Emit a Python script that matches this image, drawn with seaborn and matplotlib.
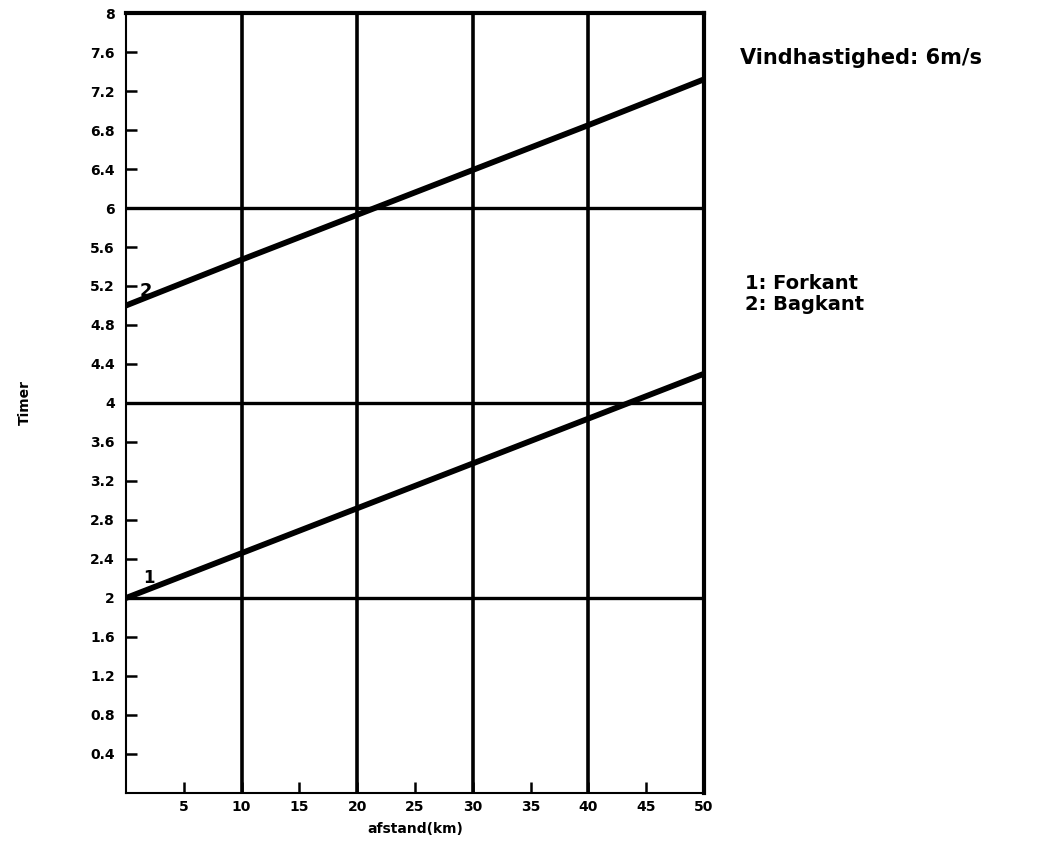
import numpy as np
import pandas as pd
import matplotlib
matplotlib.use("Agg")
import matplotlib.pyplot as plt
import seaborn as sns

# distance (km) and time (hours)
afstand = [0, 10, 20, 30, 40, 50]
forkant = [2.0, 2.46, 2.92, 3.38, 3.84, 4.30]
bagkant = [5.0, 5.47, 5.93, 6.39, 6.85, 7.32]

y_ticks = [0.4, 0.8, 1.2, 1.6, 2, 2.4, 2.8, 3.2, 3.6, 4, 4.4, 4.8,
           5.2, 5.6, 6, 6.4, 6.8, 7.2, 7.6, 8]
y_labels = ["0.4", "0.8", "1.2", "1.6", "2", "2.4", "2.8", "3.2", "3.6", "4",
            "4.4", "4.8", "5.2", "5.6", "6", "6.4", "6.8", "7.2", "7.6", "8"]
x_ticks = [5, 10, 15, 20, 25, 30, 35, 40, 45, 50]
h_grid = [2, 4, 6]
v_grid = [10, 20, 30, 40]

df = pd.DataFrame({
    "afstand": afstand * 2,
    "timer": forkant + bagkant,
    "kant": ["1"] * len(afstand) + ["2"] * len(afstand),
})

sns.set_style("white")
plt.rcParams["font.family"] = ["DejaVu Sans"]
plt.rcParams["font.weight"] = "bold"
plt.rcParams["text.color"] = "black"
plt.rcParams["axes.labelcolor"] = "black"

fig = plt.figure(figsize=(10.52, 8.51), dpi=100)
ax = fig.add_axes([0.1198, 0.0682, 0.5494, 0.9165])

# grid lines
for y in h_grid:
    ax.axhline(y, color="black", lw=2.4, zorder=1)
for x in v_grid:
    ax.axvline(x, color="black", lw=2.6, zorder=1)

sns.lineplot(data=df, x="afstand", y="timer", units="kant", estimator=None,
             color="black", lw=4.2, ax=ax, zorder=3)

ax.set_xlim(0, 50)
ax.set_ylim(0, 8)
ax.set_yticks(y_ticks)
ax.set_yticklabels(y_labels)
ax.set_xticks(x_ticks)
ax.set_xticklabels([str(v) for v in x_ticks])
ax.tick_params(axis="both", direction="in", length=8, width=1.8,
               labelsize=10, colors="black", pad=8)
ax.tick_params(axis="x", pad=5)
ax.tick_params(left=True, bottom=True)

for side in ["top", "right"]:
    ax.spines[side].set_linewidth(3)
for side in ["left", "bottom"]:
    ax.spines[side].set_linewidth(1.5)
    ax.spines[side].set_linestyle((0, (6, 1)))
for s in ax.spines.values():
    s.set_color("black")

ax.set_xlabel("afstand(km)", fontsize=10, fontweight="bold", labelpad=6)
ax.set_ylabel("Timer", fontsize=10, fontweight="bold", labelpad=42)

ax.text(1.5, 2.15, "1", fontsize=12, fontweight="bold", zorder=4)
ax.text(1.2, 5.1, "2", fontsize=13, fontweight="bold", zorder=4)

fig.text(0.703, 0.925, "Vindhastighed: 6m/s", fontsize=15, fontweight="bold")
fig.text(0.708, 0.660, "1: Forkant", fontsize=14, fontweight="bold")
fig.text(0.708, 0.636, "2: Bagkant", fontsize=14, fontweight="bold")

fig.savefig("out.png", dpi=100)
